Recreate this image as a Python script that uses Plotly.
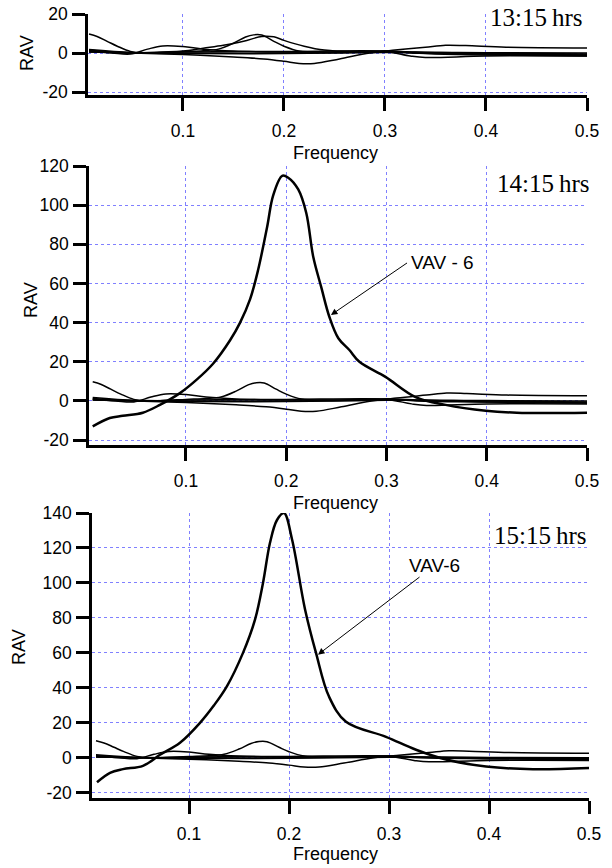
import plotly.graph_objects as go

# ---------------- data ----------------
# common (other sensors) spectra, identical in all three panels
a_freq = [0.007, 0.015, 0.025, 0.035, 0.048, 0.06, 0.08, 0.1, 0.12, 0.135, 0.15, 0.162, 0.17, 0.178, 0.19, 0.2, 0.215, 0.24, 0.27, 0.3, 0.33, 0.36, 0.4, 0.45, 0.5]
a_rav = [9.8, 8.5, 6.0, 3.5, 0.8, 0.0, 0.3, 0.8, 1.2, 2.0, 5.0, 8.2, 9.3, 9.2, 6.0, 3.5, 1.0, 0.3, 0.5, 1.0, 0.5, 0.0, -0.5, -0.8, -1.0]

b_freq = [0.007, 0.03, 0.048, 0.065, 0.08, 0.1, 0.12, 0.15, 0.2, 0.25, 0.3, 0.325, 0.34, 0.4, 0.5]
b_rav = [1.0, 0.0, -0.5, 2.0, 3.6, 3.3, 2.0, 1.0, 0.5, 0.5, 0.8, -1.5, -2.3, -1.5, -1.5]

c_freq = [0.007, 0.05, 0.1, 0.15, 0.18, 0.2, 0.215, 0.23, 0.255, 0.285, 0.31, 0.34, 0.36, 0.38, 0.42, 0.5]
c_rav = [0.5, 0.0, -0.8, -2.0, -3.0, -4.2, -5.3, -5.3, -3.0, 0.0, 1.5, 3.0, 4.0, 3.8, 3.0, 2.6]

d_freq = [0.007, 0.05, 0.1, 0.2, 0.3, 0.4, 0.5]
d_rav = [1.8, 0.3, 0.0, 0.0, 0.5, 0.0, -0.5]

e_freq = [0.007, 0.05, 0.1, 0.2, 0.3, 0.33, 0.4, 0.5]
e_rav = [1.2, 0.0, 0.5, 0.8, 1.0, 0.0, -0.5, -1.0]

f_freq = [0.007, 0.1, 0.2, 0.3, 0.4, 0.5]
f_rav = [0.5, -0.3, -0.3, 0.3, 0.2, 0.0]

# VAV-6 spectra
vav_1315_freq = [0.007, 0.03, 0.05, 0.08, 0.1, 0.12, 0.14, 0.16, 0.178, 0.19, 0.2, 0.22, 0.24, 0.27, 0.3, 0.35, 0.4, 0.5]
vav_1315_rav = [1.5, 0.5, 0.0, 0.5, 1.0, 2.5, 4.0, 6.0, 8.5, 8.3, 6.5, 3.5, 1.5, 0.5, 0.5, -0.5, -1.0, -1.5]

vav_1415_freq = [0.007, 0.024, 0.037, 0.057, 0.074, 0.094, 0.111, 0.127, 0.144, 0.154, 0.164, 0.172, 0.181, 0.187, 0.196, 0.202, 0.212, 0.22, 0.227, 0.235, 0.243, 0.252, 0.263, 0.273, 0.299, 0.329, 0.359, 0.399, 0.43, 0.5]
vav_1415_rav = [-13, -8.7, -7.6, -6, -2, 4, 11, 19, 31, 40, 52, 67, 89, 105, 115, 114, 108, 96, 73.5, 58, 43, 32, 26, 20, 12.3, 2, -2, -5, -6, -6]

vav_1515_freq = [0.008, 0.021, 0.034, 0.054, 0.071, 0.091, 0.111, 0.125, 0.138, 0.154, 0.166, 0.174, 0.181, 0.188, 0.195, 0.203, 0.216, 0.227, 0.24, 0.257, 0.297, 0.327, 0.357, 0.397, 0.444, 0.5]
vav_1515_rav = [-14, -8.6, -6.5, -4.6, 1.7, 8.6, 20, 30, 41, 60, 79, 100, 123, 136, 140, 125, 85, 60, 35, 20.6, 12, 4.6, -1, -5, -6.5, -5.8]

panel_labels = ["13:15\u2009hrs", "14:15\u2009hrs", "15:15\u2009hrs"]
x_ticks = [0.1, 0.2, 0.3, 0.4, 0.5]
y_ticks_1 = [-20, 0, 20]
y_ticks_2 = [-20, 0, 20, 40, 60, 80, 100, 120]
y_ticks_3 = [-20, 0, 20, 40, 60, 80, 100, 120, 140]

# ---------------- layout helpers ----------------
W, H = 612, 868
def px(x):
    return x / W
def py(y):
    return 1 - y / H

panels = [
    dict(xd=[px(88), px(587)], yd=[py(95), py(14)], xr=[0.006, 0.5], yr=[-21.5, 20], yt=y_ticks_1),
    dict(xd=[px(89), px(587)], yd=[py(445), py(166)], xr=[0.0033, 0.5], yr=[-22.5, 120], yt=y_ticks_2),
    dict(xd=[px(92), px(589)], yd=[py(798), py(513)], xr=[0.003, 0.5], yr=[-23, 140], yt=y_ticks_3),
]

FONT = "Liberation Sans, Arial, sans-serif"
GRID = "#8080ff"

fig = go.Figure()

commons = [(a_freq, a_rav), (b_freq, b_rav), (c_freq, c_rav), (d_freq, d_rav), (e_freq, e_rav), (f_freq, f_rav)]
vavs = [(vav_1315_freq, vav_1315_rav, 1.5), (vav_1415_freq, vav_1415_rav, 2.5), (vav_1515_freq, vav_1515_rav, 2.5)]

for i in range(3):
    xa = "x" if i == 0 else f"x{i+1}"
    ya = "y" if i == 0 else f"y{i+1}"
    for fr, rv in commons:
        fig.add_trace(go.Scatter(x=fr, y=rv, mode="lines", xaxis=xa, yaxis=ya,
                                 line=dict(color="black", width=1.5, shape="spline", smoothing=1.0),
                                 showlegend=False, hoverinfo="skip"))
    fr, rv, w = vavs[i]
    fig.add_trace(go.Scatter(x=fr, y=rv, mode="lines", xaxis=xa, yaxis=ya,
                             line=dict(color="black", width=w, shape="spline", smoothing=1.0),
                             showlegend=False, hoverinfo="skip"))

layout = dict(width=W, height=H, margin=dict(l=0, r=0, t=0, b=0, autoexpand=False),
              paper_bgcolor="white", plot_bgcolor="white", showlegend=False)

for i, p in enumerate(panels):
    xk = "xaxis" if i == 0 else f"xaxis{i+1}"
    yk = "yaxis" if i == 0 else f"yaxis{i+1}"
    ya = "y" if i == 0 else f"y{i+1}"
    xa = "x" if i == 0 else f"x{i+1}"
    layout[xk] = dict(domain=p["xd"], range=p["xr"], anchor=ya, tickvals=x_ticks,
                      ticktext=[f"{v:.1f}" for v in x_ticks], automargin=False,
                      showline=True, linecolor="black", linewidth=2.5, mirror=False,
                      ticks="outside", ticklen=13, tickwidth=2.5, tickcolor="black",
                      showgrid=True, gridcolor=GRID, griddash="dot", gridwidth=1,
                      zeroline=False, ticklabelstandoff=5,
                      tickfont=dict(family=FONT, size=17.5, color="black"))
    layout[yk] = dict(domain=p["yd"], range=p["yr"], anchor=xa, tickvals=p["yt"],
                      ticktext=[str(v) for v in p["yt"]], automargin=False,
                      showline=True, linecolor="black", linewidth=2.5, mirror=False,
                      ticks="outside", ticklen=13, tickwidth=2.5, tickcolor="black",
                      showgrid=True, gridcolor=GRID, griddash="dot", gridwidth=1,
                      zeroline=False, ticklabelstandoff=1,
                      tickfont=dict(family=FONT, size=17.5, color="black"))

fig.update_layout(**layout)

ann = []
# axis titles
for (rx, ry) in [(27, 53), (31, 300), (19, 647)]:
    ann.append(dict(text="RAV", x=px(rx), y=py(ry), xref="paper", yref="paper", showarrow=False,
                    textangle=-90, font=dict(family=FONT, size=18, color="black"),
                    xanchor="center", yanchor="middle"))
for (fx, fy) in [(335, 153), (335, 503), (335, 854)]:
    ann.append(dict(text="Frequency", x=px(fx), y=py(fy), xref="paper", yref="paper", showarrow=False,
                    font=dict(family=FONT, size=18, color="black"), xanchor="center", yanchor="middle"))
# time labels
for lab, (tx, ty) in zip(panel_labels, [(585, 17), (592, 184), (589, 535)]):
    ann.append(dict(text=lab, x=px(tx), y=py(ty), xref="paper", yref="paper", showarrow=False,
                    font=dict(family="Liberation Serif, Times New Roman, serif", size=25, color="black"),
                    xanchor="right", yanchor="middle"))
# VAV-6 callouts
ann.append(dict(text="", x=0.2446, y=43.9, xref="x2", yref="y2", ax=0.322, ay=71, axref="x2", ayref="y2",
                showarrow=True, arrowhead=2, arrowsize=1.3, arrowwidth=1, arrowcolor="black"))
ann.append(dict(text="VAV - 6", x=0.3225, y=70.5, xref="x2", yref="y2", showarrow=False,
                font=dict(family=FONT, size=19, color="black"), xanchor="left", yanchor="middle"))
ann.append(dict(text="", x=0.229, y=59, xref="x3", yref="y3", ax=0.332, ay=104, axref="x3", ayref="y3",
                showarrow=True, arrowhead=2, arrowsize=1.3, arrowwidth=1, arrowcolor="black"))
ann.append(dict(text="VAV-6", x=0.3455, y=110, xref="x3", yref="y3", showarrow=False,
                font=dict(family=FONT, size=19, color="black"), xanchor="center", yanchor="middle"))
fig.update_layout(annotations=ann)

fig.write_html("out.html")
